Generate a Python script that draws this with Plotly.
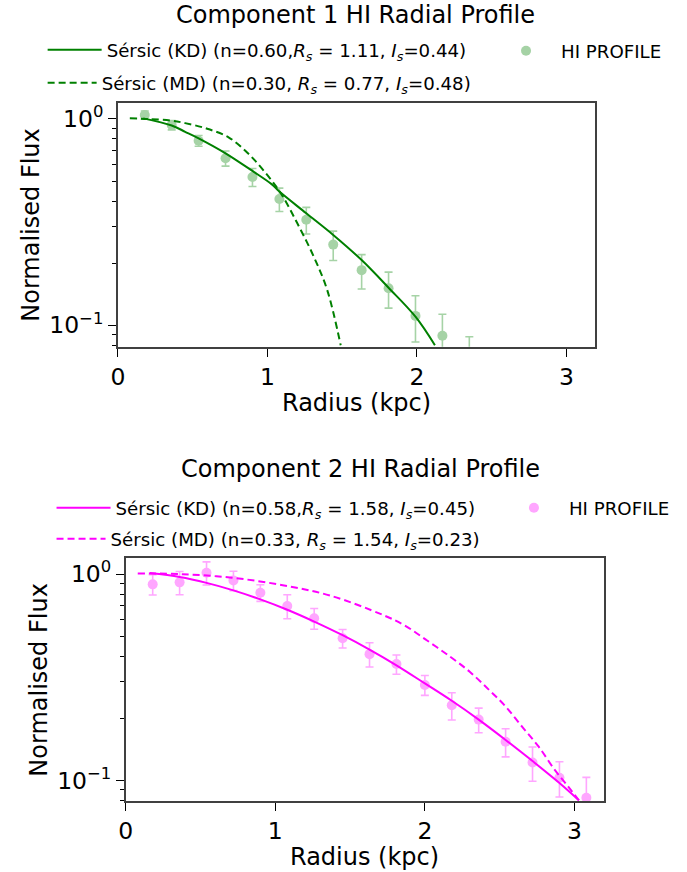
import plotly.graph_objects as go

# ---------------- data ----------------
# Component 1 HI profile
r1 = [0.18, 0.36, 0.54, 0.72, 0.90, 1.08, 1.26, 1.44, 1.63, 1.81, 1.99, 2.17, 2.35]
f1 = [1.045, 0.935, 0.785, 0.645, 0.523, 0.409, 0.325, 0.246, 0.185, 0.151, 0.111, 0.089, 0.068]
e1 = [0.048, 0.049, 0.047, 0.054, 0.052, 0.053, 0.048, 0.040, 0.035, 0.030, 0.028, 0.024, 0.020]

kd1_r = [0.17, 0.36, 0.45, 0.54, 0.72, 0.90, 1.03, 1.08, 1.26, 1.44, 1.63, 1.81, 1.99, 2.12]
kd1_f = [1.007, 0.930, 0.867, 0.806, 0.682, 0.560, 0.482, 0.445, 0.349, 0.274, 0.207, 0.152, 0.110, 0.080]

md1_r = [0.08, 0.20, 0.36, 0.45, 0.58, 0.74, 0.87, 0.98, 1.09, 1.20, 1.31, 1.40, 1.49]
md1_f = [1.007, 1.000, 0.982, 0.955, 0.905, 0.815, 0.682, 0.556, 0.436, 0.312, 0.215, 0.148, 0.080]

# Component 2 HI profile
r2 = [0.18, 0.36, 0.54, 0.72, 0.90, 1.08, 1.26, 1.45, 1.63, 1.81, 2.00, 2.18, 2.36, 2.54, 2.72, 2.90, 3.08]
f2 = [0.891, 0.911, 1.015, 0.931, 0.812, 0.700, 0.610, 0.488, 0.409, 0.366, 0.290, 0.231, 0.197, 0.154, 0.122, 0.103, 0.0824]
e2 = [0.100, 0.117, 0.130, 0.100, 0.075, 0.093, 0.070, 0.050, 0.055, 0.039, 0.032, 0.035, 0.027, 0.024, 0.023, 0.020, 0.021]

kd2_r = [0.16, 0.36, 0.54, 0.72, 0.90, 1.08, 1.26, 1.45, 1.63, 1.81, 2.00, 2.18, 2.36, 2.54, 2.72, 2.90, 3.03]
kd2_f = [1.010, 0.967, 0.906, 0.833, 0.753, 0.671, 0.588, 0.505, 0.430, 0.361, 0.295, 0.243, 0.197, 0.157, 0.124, 0.097, 0.080]

md2_r = [0.08, 0.38, 0.71, 1.04, 1.37, 1.72, 1.86, 2.01, 2.17, 2.30, 2.43, 2.54, 2.65, 2.76, 2.87, 2.96, 3.03]
md2_f = [1.007, 0.998, 0.959, 0.885, 0.785, 0.633, 0.566, 0.479, 0.397, 0.336, 0.274, 0.228, 0.182, 0.146, 0.112, 0.093, 0.080]

titles = ["Component 1 HI Radial Profile", "Component 2 HI Radial Profile"]
kd_names = ["Sérsic (KD) (n=0.60,<i>R<sub>s</sub></i> = 1.11, <i>I<sub>s</sub></i>=0.44)",
            "Sérsic (KD) (n=0.58,<i>R<sub>s</sub></i> = 1.58, <i>I<sub>s</sub></i>=0.45)"]
md_names = ["Sérsic (MD) (n=0.30, <i>R<sub>s</sub></i> = 0.77, <i>I<sub>s</sub></i>=0.48)",
            "Sérsic (MD) (n=0.33, <i>R<sub>s</sub></i> = 1.54, <i>I<sub>s</sub></i>=0.23)"]
data_name = "HI PROFILE"
xlabel = "Radius (kpc)"
ylabel = "Normalised Flux"
xticks = [0, 1, 2, 3]
yticks = [0.1, 1]
yticktext = ["10<sup>\u22121</sup>", "10<sup>0</sup>"]
yminor = [0.08, 0.09, 0.2, 0.3, 0.4, 0.5, 0.6, 0.7, 0.8, 0.9]

# ---------------- layout helpers ----------------
W, H = 687, 872
FONT = "DejaVu Sans"
GREEN = "#008000"
MAG = "#ff00ff"
AX = "#404040"

def fx(p):
    return p / W

def fy(p):
    return 1 - p / H

fig = go.Figure()

panels = [
    dict(color=GREEN, r=r1, f=f1, e=e1, kr=kd1_r, kf=kd1_f, mr=md1_r, mf=md1_f,
         xa="x", ya="y", leg=("legend", "legend2", "legend3")),
    dict(color=MAG, r=r2, f=f2, e=e2, kr=kd2_r, kf=kd2_f, mr=md2_r, mf=md2_f,
         xa="x2", ya="y2", leg=("legend4", "legend5", "legend6")),
]

for i, p in enumerate(panels):
    fig.add_trace(go.Scatter(x=p["kr"], y=p["kf"], mode="lines", name=kd_names[i],
                             line=dict(color=p["color"], width=2, shape="spline"),
                             xaxis=p["xa"], yaxis=p["ya"], legend=p["leg"][0]))
    fig.add_trace(go.Scatter(x=p["mr"], y=p["mf"], mode="lines", name=md_names[i],
                             line=dict(color=p["color"], width=2, shape="spline", dash="7px,4px"),
                             xaxis=p["xa"], yaxis=p["ya"], legend=p["leg"][1]))
    fig.add_trace(go.Scatter(x=p["r"], y=p["f"], mode="markers", name=data_name,
                             marker=dict(color=p["color"], size=10),
                             error_y=dict(type="data", array=p["e"], color=p["color"],
                                          thickness=1.6, width=4),
                             opacity=0.35,
                             xaxis=p["xa"], yaxis=p["ya"], legend=p["leg"][2]))

axis_common = dict(showgrid=False, zeroline=False, showline=True, mirror=True,
                   linecolor=AX, linewidth=1.6, ticks="outside", ticklen=8,
                   tickwidth=1.4, tickcolor="black",
                   tickfont=dict(family=FONT, size=23.5, color="black"))

xaxis_t = dict(axis_common, domain=[fx(112), fx(594)], anchor="y", range=[0, 3.19],
               tickmode="array", tickvals=xticks)
xaxis_b = dict(axis_common, domain=[fx(120), fx(603)], anchor="y2", range=[0, 3.197],
               tickmode="array", tickvals=xticks)
yminor_d = dict(tickmode="array", tickvals=yminor, ticks="outside", ticklen=4,
                tickwidth=1.2, tickcolor="black")
yaxis_t = dict(axis_common, type="log", domain=[fy(346.7), fy(102.7)], anchor="x",
               range=[-1.104, 0.079], tickmode="array", tickvals=yticks,
               ticktext=yticktext, minor=yminor_d)
yaxis_b = dict(axis_common, type="log", domain=[fy(801), fy(557.7)], anchor="x2",
               range=[-1.100, 0.079], tickmode="array", tickvals=yticks,
               ticktext=yticktext, minor=yminor_d)

def leg(x, y, iw=30):
    return dict(x=fx(x), y=fy(y), xanchor="left", yanchor="middle",
                bgcolor="rgba(0,0,0,0)", borderwidth=0, itemwidth=iw,
                font=dict(family=FONT, size=18.2, color="black"))

annotations = []
def ann(text, x, y, size=24, angle=0):
    annotations.append(dict(text=text, x=fx(x), y=fy(y), xref="paper", yref="paper",
                            showarrow=False, xanchor="center", yanchor="middle",
                            textangle=angle,
                            font=dict(family=FONT, size=size, color="black")))

ann(titles[0], 352, 15)
ann(titles[1], 357, 469)
ann(xlabel, 353, 403)
ann(xlabel, 361, 857)
ann(ylabel, 24, 225, angle=-90)
ann(ylabel, 32, 680, angle=-90)

fig.update_layout(
    width=W, height=H,
    margin=dict(l=0, r=0, t=0, b=0),
    paper_bgcolor="white", plot_bgcolor="white",
    font=dict(family=FONT, color="black"),
    xaxis=xaxis_t, yaxis=yaxis_t, xaxis2=xaxis_b, yaxis2=yaxis_b,
    legend=leg(36, 50, 54),
    legend2=leg(36, 83, 49),
    legend3=leg(489, 51, 60),
    legend4=leg(45, 508, 54),
    legend5=leg(45, 539, 49),
    legend6=leg(497, 508, 60),
    annotations=annotations,
    showlegend=True,
)

# remove the default 8px page margin so the figure fills the window exactly
fig.write_html("out.html", config={"displayModeBar": False},
               post_script="document.body.style.margin='0px';")
